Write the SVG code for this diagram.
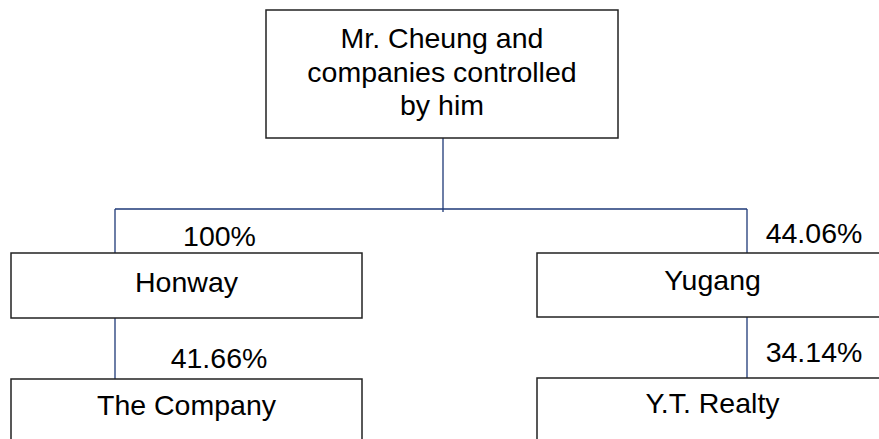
<svg xmlns="http://www.w3.org/2000/svg" width="879" height="439" viewBox="0 0 879 439">
<style>
.box{fill:#fff;stroke:#222;stroke-width:1.5}
.t{font-family:"Liberation Sans",Arial,sans-serif;font-size:28.5px;fill:#000}
.c{text-anchor:middle}
.ln{stroke:#1f3a78;stroke-width:1.3;fill:none}
</style>
<rect width="879" height="439" fill="#fff"/>
<g id="connectors">
<path class="ln" d="M443 138V212M115 209H747M115 209V253M747 209V253M115 318V379M747 317V378"/>
</g>
<g id="top">
<rect class="box" x="266" y="10" width="352" height="128"/>
<text class="t c" x="442" y="47.5">Mr. Cheung and</text>
<text class="t c" x="442" y="81.5">companies controlled</text>
<text class="t c" x="442" y="115">by him</text>
</g>
<g id="honway">
<rect class="box" x="11" y="253" width="351" height="65"/>
<text class="t c" x="186.5" y="292">Honway</text>
</g>
<g id="yugang">
<rect class="box" x="537" y="253" width="351" height="64"/>
<text class="t c" x="712.5" y="290">Yugang</text>
</g>
<g id="company">
<rect class="box" x="11" y="379" width="351" height="70"/>
<text class="t c" x="186.5" y="415">The Company</text>
</g>
<g id="ytrealty">
<rect class="box" x="537" y="378" width="351" height="70"/>
<text class="t c" x="712.5" y="413">Y.T. Realty</text>
</g>
<g id="labels">
<text class="t c" x="219.5" y="245.5">100%</text>
<text class="t c" x="219" y="368">41.66%</text>
<text class="t c" x="814" y="243">44.06%</text>
<text class="t c" x="814" y="361.5">34.14%</text>
</g>
</svg>
